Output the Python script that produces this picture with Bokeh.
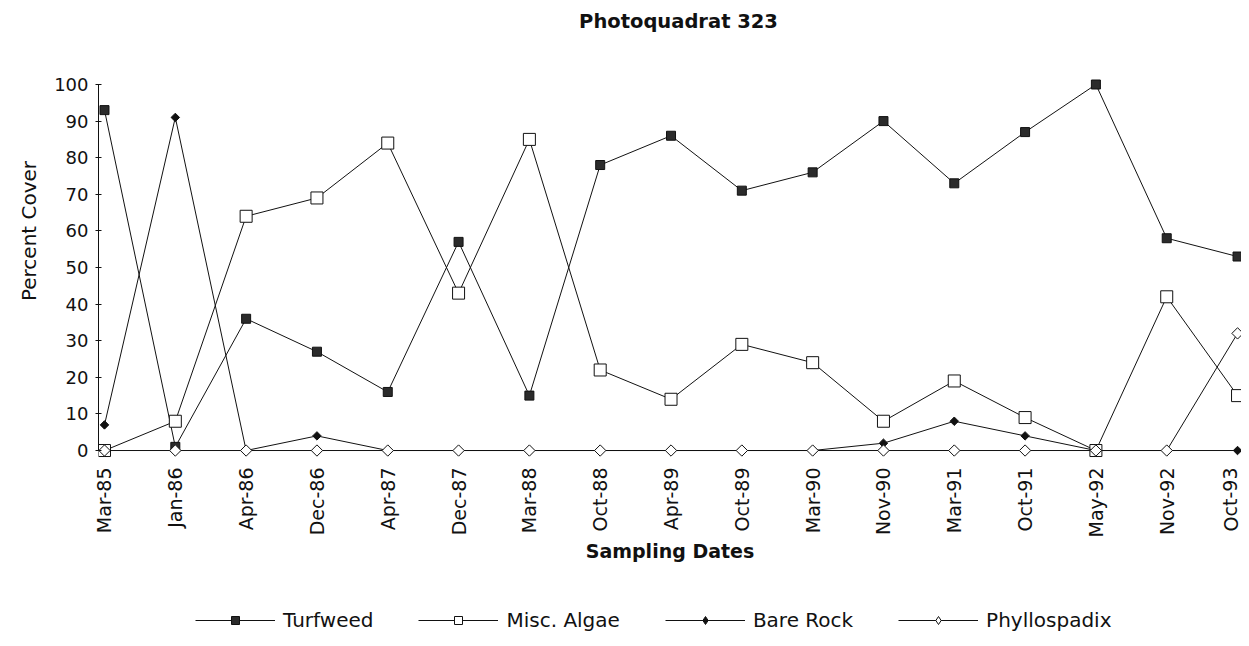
from bokeh.plotting import figure
from bokeh.models import Range1d, Legend, LegendItem, FixedTicker
from bokeh.core.properties import value
from bokeh.layouts import column
from bokeh.embed import file_html
from bokeh.resources import INLINE

title = "Photoquadrat 323"
dates = ["Mar-85", "Jan-86", "Apr-86", "Dec-86", "Apr-87", "Dec-87", "Mar-88",
         "Oct-88", "Apr-89", "Oct-89", "Mar-90", "Nov-90", "Mar-91", "Oct-91",
         "May-92", "Nov-92", "Oct-93"]
turfweed = [93, 1, 36, 27, 16, 57, 15, 78, 86, 71, 76, 90, 73, 87, 100, 58, 53]
misc_algae = [0, 8, 64, 69, 84, 43, 85, 22, 14, 29, 24, 8, 19, 9, 0, 42, 15]
bare_rock = [7, 91, 0, 4, 0, 0, 0, 0, 0, 0, 0, 2, 8, 4, 0, 0, 0]
phyllospadix = [0, 0, 0, 0, 0, 0, 0, 0, 0, 0, 0, 0, 0, 0, 0, 0, 32]

xs = list(range(len(dates)))
FONT = "DejaVu Sans"
INK = "#111111"
DIAMOND = 0.7853981634  # square turned 45 degrees

p = figure(width=1241, height=598, output_backend="svg", toolbar_location=None,
           x_range=Range1d(-0.0847, 16.056), y_range=Range1d(-3, 122.95),
           min_border_left=98, min_border_right=0, min_border_top=0,
           min_border_bottom=137)
p.outline_line_color = None
p.xgrid.visible = False
p.ygrid.visible = False

# title drawn as text at the top of the frame
p.text(x=[8.106], y=[117.2], text=[title], text_align="center",
       text_baseline="middle", text_font=value(FONT), text_font_size="19.5px",
       text_font_style="bold", text_color=INK)

# y axis
p.yaxis.bounds = (0, 100)
p.yaxis.ticker = FixedTicker(ticks=list(range(0, 101, 10)))
p.yaxis.minor_tick_line_color = None
p.yaxis.major_tick_in = 3
p.yaxis.major_tick_out = 3
p.yaxis.axis_line_color = INK
p.yaxis.major_tick_line_color = INK
p.yaxis.major_label_text_font = FONT
p.yaxis.major_label_text_font_size = "18px"
p.yaxis.major_label_text_color = INK
p.yaxis.major_label_standoff = 7
p.yaxis.axis_label = "Percent Cover"
p.yaxis.axis_label_text_font = FONT
p.yaxis.axis_label_text_font_size = "20px"
p.yaxis.axis_label_text_font_style = "normal"
p.yaxis.axis_label_text_color = INK
p.yaxis.axis_label_standoff = 10

# x axis
p.xaxis.ticker = FixedTicker(ticks=xs)
p.xaxis.major_label_overrides = {i: d for i, d in enumerate(dates)}
p.xaxis.major_label_orientation = 1.5708
p.xaxis.axis_line_color = None
p.xaxis.major_tick_line_color = None
p.xaxis.minor_tick_line_color = None
p.xaxis.major_label_text_font = FONT
p.xaxis.major_label_text_font_size = "19px"
p.xaxis.major_label_text_color = INK
p.xaxis.major_label_standoff = 0
p.xaxis.axis_label = "Sampling Dates"
p.xaxis.axis_label_text_font = FONT
p.xaxis.axis_label_text_font_size = "19px"
p.xaxis.axis_label_text_font_style = "bold"
p.xaxis.axis_label_text_color = INK
p.xaxis.axis_label_standoff = 0

# name, values, plot size, plot angle, fill, legend marker, legend size
series = [
    ("Turfweed", turfweed, 9, 0.0, "#2b2b2b", "square", 8),
    ("Misc. Algae", misc_algae, 12, 0.0, "white", "square", 10),
    ("Bare Rock", bare_rock, 6, DIAMOND, INK, "diamond", 10),
    ("Phyllospadix", phyllospadix, 8, DIAMOND, "white", "diamond", 13),
]

for name, vals, size, ang, fill, _, _ in series:
    p.line(xs, vals, line_color=INK, line_width=1)
    p.scatter(xs, vals, marker="square", size=size, angle=ang, fill_color=fill,
              line_color=INK, line_width=1)

# legend strip below the chart (renderers kept out of view, shown only in the legend)
lg = figure(width=1241, height=40, output_backend="svg", toolbar_location=None,
            x_range=Range1d(1000, 1001), y_range=Range1d(1000, 1001),
            x_axis_location=None, y_axis_location=None,
            min_border_left=0, min_border_right=0, min_border_top=0,
            min_border_bottom=0)
lg.outline_line_color = None
lg.xgrid.visible = False
lg.ygrid.visible = False

items = []
for name, vals, size, ang, fill, lmarker, lsize in series:
    ln = lg.line(xs, vals, line_color=INK, line_width=1)
    sc = lg.scatter(xs, vals, marker=lmarker, size=lsize,
                    fill_color=fill, line_color=INK, line_width=1)
    items.append(LegendItem(label=name, renderers=[ln, sc]))

legend = Legend(items=items, orientation="horizontal", location=(97, 6),
                glyph_width=80, glyph_height=20, label_standoff=8, spacing=45,
                label_text_font=FONT, label_text_font_size="20px",
                label_text_color=INK, border_line_color=None,
                background_fill_alpha=0, margin=0, padding=0)
lg.add_layout(legend, "center")

layout = column(p, lg, spacing=0)
open("out.html", "w").write(file_html(layout, INLINE))
